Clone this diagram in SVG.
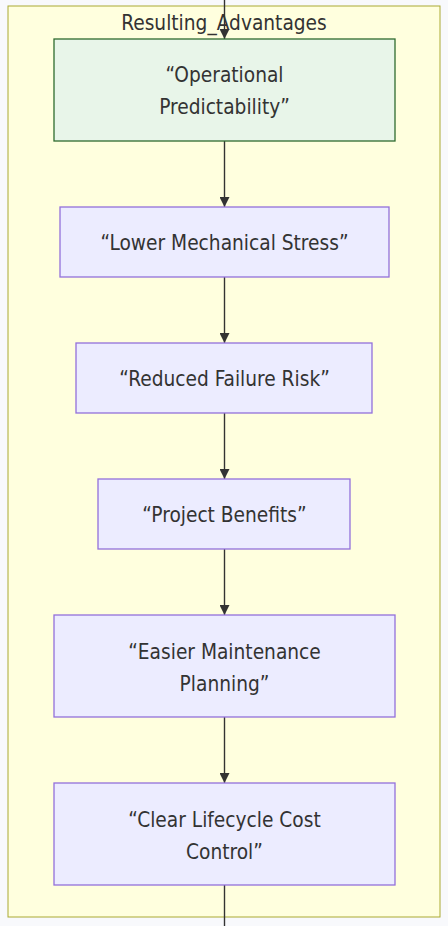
<svg xmlns="http://www.w3.org/2000/svg" width="448" height="926" viewBox="0 0 448 926">
<defs>
<style>
.bg{fill:#f8f9fc}
.cluster{fill:#ffffde;stroke:#aaaa33;stroke-width:1}
.node{fill:#ececff;stroke:#9370db;stroke-width:1.3}
.green{fill:#e8f5e9;stroke:#2e6b2e;stroke-width:1.3}
.t{font-family:"DejaVu Sans Condensed","DejaVu Sans",sans-serif;font-stretch:condensed;font-size:20.7px;fill:#333;text-anchor:middle;dominant-baseline:central}
.edge{stroke:#333;stroke-width:1.4;fill:none}
</style>
<marker id="arr" viewBox="0 0 10 10" refX="10" refY="5" markerWidth="10" markerHeight="10" markerUnits="userSpaceOnUse" orient="auto">
<path d="M0,0 L10,5 L0,10 z" fill="#333"/>
</marker>
</defs>
<rect class="bg" x="0" y="0" width="448" height="926"/>
<g id="cluster_Resulting_Advantages">
<rect class="cluster" x="8" y="6" width="432" height="911"/>
<text class="t" x="224" y="22.5">Resulting_Advantages</text>
</g>
<g id="connectors">
<path class="edge" d="M224.5,0 V39" marker-end="url(#arr)"/>
<path class="edge" d="M224.5,141 V207" marker-end="url(#arr)"/>
<path class="edge" d="M224.5,277 V343" marker-end="url(#arr)"/>
<path class="edge" d="M224.5,413 V479" marker-end="url(#arr)"/>
<path class="edge" d="M224.5,549 V615" marker-end="url(#arr)"/>
<path class="edge" d="M224.5,717 V783" marker-end="url(#arr)"/>
<path class="edge" d="M224.5,885 V926"/>
</g>
<g id="node1">
<rect class="green" x="54" y="39" width="341" height="102"/>
<text class="t" x="224.5" y="75">“Operational</text>
<text class="t" x="224.5" y="107">Predictability”</text>
</g>
<g id="node2">
<rect class="node" x="60" y="207" width="329" height="70"/>
<text class="t" x="224.5" y="243">“Lower Mechanical Stress”</text>
</g>
<g id="node3">
<rect class="node" x="76" y="343" width="296" height="70"/>
<text class="t" x="224.5" y="379">“Reduced Failure Risk”</text>
</g>
<g id="node4">
<rect class="node" x="98" y="479" width="252" height="70"/>
<text class="t" x="224.5" y="515">“Project Benefits”</text>
</g>
<g id="node5">
<rect class="node" x="54" y="615" width="341" height="102"/>
<text class="t" x="224.5" y="652">“Easier Maintenance</text>
<text class="t" x="224.5" y="684">Planning”</text>
</g>
<g id="node6">
<rect class="node" x="54" y="783" width="341" height="102"/>
<text class="t" x="224.5" y="820">“Clear Lifecycle Cost</text>
<text class="t" x="224.5" y="852">Control”</text>
</g>
</svg>
